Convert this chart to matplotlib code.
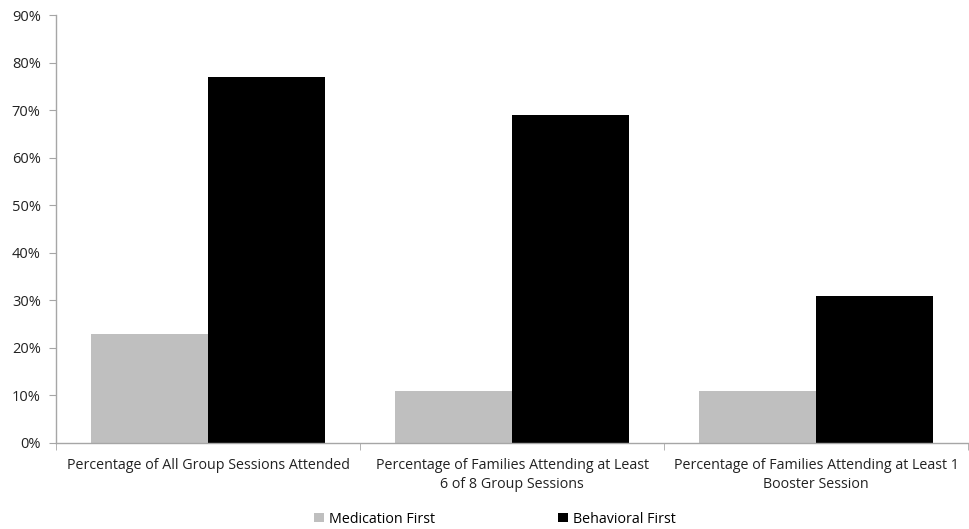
import numpy as np
import matplotlib.pyplot as plt
from matplotlib.ticker import FuncFormatter, FixedLocator

categories = ['Percentage of All Group Sessions Attended',
              'Percentage of Families Attending at Least\n6 of 8 Group Sessions',
              'Percentage of Families Attending at Least 1\nBooster Session']
medication_first = [23, 11, 11]
behavioral_first = [77, 69, 31]

plt.rcParams['font.family'] = ['Open Sans', 'DejaVu Sans']

fig = plt.figure(figsize=(9.69, 5.29), dpi=100)
ax = fig.add_axes([0.0578, 0.1626, 0.9412, 0.809])

x = np.arange(len(categories))
w = 0.385
ax.bar(x - w / 2, medication_first, w, color='#bfbfbf', label='Medication First')
ax.bar(x + w / 2, behavioral_first, w, color='#000000', label='Behavioral First')

ax.set_xlim(-0.5, len(categories) - 0.5)
ax.set_ylim(0, 90)
ax.set_yticks(range(0, 91, 10))
ax.yaxis.set_major_formatter(FuncFormatter(lambda v, p: f'{v:.0f}%'))

ax.set_xticks(x)
ax.set_xticklabels(categories, fontsize=10.3, color='#222222', linespacing=1.3)
ax.xaxis.set_minor_locator(FixedLocator(np.arange(-0.5, len(categories), 1)))
ax.tick_params(axis='x', which='major', length=0, pad=11)
ax.tick_params(axis='x', which='minor', length=5, color='#a6a6a6', direction='out')
ax.tick_params(axis='y', length=5, color='#a6a6a6', labelsize=10.5, labelcolor='#222222', pad=6)

for s in ['top', 'right']:
    ax.spines[s].set_visible(False)
for s in ['left', 'bottom']:
    ax.spines[s].set_color('#a6a6a6')
    ax.spines[s].set_linewidth(1)

fig.legend(loc='lower center', bbox_to_anchor=(0.511, -0.02), ncol=2, frameon=False,
           fontsize=10.3, handlelength=0.65, handleheight=0.65, handletextpad=0.4,
           columnspacing=8.6)

fig.savefig('out.png', dpi=100)
